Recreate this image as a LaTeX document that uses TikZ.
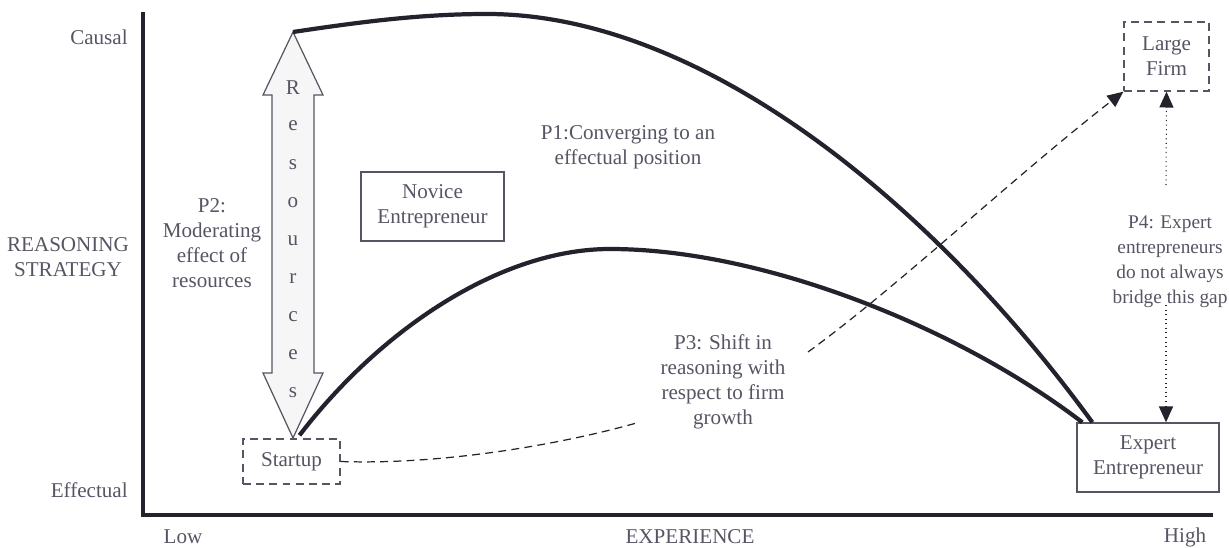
\documentclass[tikz,border=0pt]{standalone}
\usepackage{fontspec}
\setmainfont{Liberation Serif}
\usetikzlibrary{arrows.meta}
\definecolor{tinta}{RGB}{85,85,100}
\definecolor{trazo}{RGB}{35,35,45}
\begin{document}
\begin{tikzpicture}[x=0.02cm,y=-0.02cm]
\tikzstyle{nodo texto}=[font=\fontsize{12}{14.2}\selectfont,text=tinta,align=center,inner sep=0pt]
\tikzstyle{caja}=[nodo texto,draw=tinta,line width=0.8pt]
\tikzstyle{curva}=[line width=2.4pt,draw=trazo]
\tikzstyle{punta}=[-{Triangle[length=9pt,width=8pt]}]
\tikzstyle{rayas}=[dash pattern=on 4.5pt off 3pt]

\useasboundingbox (0,0) rectangle (1229,547);

% ejes
\draw[line width=1.8pt,trazo] (143,12) -- (143,515) -- (1213,515);
\node[nodo texto,anchor=east] (v1) at (128,37) {Causal};
\node[nodo texto,anchor=east] (v2) at (128,490) {Effectual};
\node[nodo texto] (v3) at (68,257) {REASONING\\STRATEGY};
\node[nodo texto] (v4) at (183,537) {Low};
\node[nodo texto] (v5) at (690,537) {EXPERIENCE};
\node[nodo texto] (v6) at (1185,537) {High};

% cajas
\node[caja,rayas,minimum width=1.94cm,minimum height=0.9cm] (startup) at (291.5,461.5) {Startup};
\node[caja,minimum width=2.86cm,minimum height=1.38cm] (novice) at (432.5,206.5) {Novice\\Entrepreneur};
\node[caja,rayas,minimum width=1.7cm,minimum height=1.38cm] (large) at (1166.5,56.5) {Large\\Firm};
\node[caja,minimum width=2.84cm,minimum height=1.38cm] (expert) at (1148,457.5) {Expert\\Entrepreneur};

% flecha de recursos
\coordinate (rarriba) at (293,32);
\coordinate (rabajo) at (293,438);
\filldraw[fill=gray!7,draw=tinta,line width=0.7pt] (rarriba) -- (323,95) -- (314,95) -- (314,373) -- (323,373) -- (rabajo) -- (263,373) -- (272,373) -- (272,95) -- (263,95) -- cycle;
\foreach \l [count=\i from 0] in {R,e,s,o,u,r,c,e,s}
  \node[nodo texto] (r\i) at (293,88+38.1*\i) {\l};

% textos
\node[nodo texto] (p1) at (628,147) {P1:Converging to an\\effectual position};
\node[nodo texto] (p2) at (212,243) {P2:\\Moderating\\effect of\\resources};
\node[nodo texto] (p3) at (723,382) {P3: Shift in\\reasoning with\\respect to firm\\growth};
\node[nodo texto,font=\fontsize{11}{14.2}\selectfont] (p4) at (1170,262) {P4: Expert\\entrepreneurs\\do not always\\bridge this gap};

% curvas
\draw[curva] (rarriba) .. controls (360,22) and (420,14) .. (487,14) .. controls (700,14) and (930,200) .. ([xshift=0.32cm]expert.north west);
\draw[curva] ([xshift=0.16cm,yshift=0.06cm]startup.north) .. controls (380,330) and (500,249) .. (610,249) .. controls (760,249) and (955,325) .. ([xshift=0.12cm]expert.north west);

% P3
\coordinate (p3a) at (640,422);
\coordinate (p3b) at (808,352);
\draw[rayas,line width=0.7pt,trazo] (startup.east) .. controls (440,465) and (560,445) .. (p3a);
\draw[rayas,punta,line width=0.7pt,trazo] (p3b) .. controls (900,285) and (1010,180) .. (large.south west);

% P4
\coordinate (d1) at (1166,185);
\coordinate (d2) at (1166,305);
\draw[dotted,punta,line width=0.6pt,trazo] (d1) -- (large.south);
\draw[dotted,punta,line width=0.6pt,trazo] (d2) -- (d2 |- expert.north);
\end{tikzpicture}
\end{document}
